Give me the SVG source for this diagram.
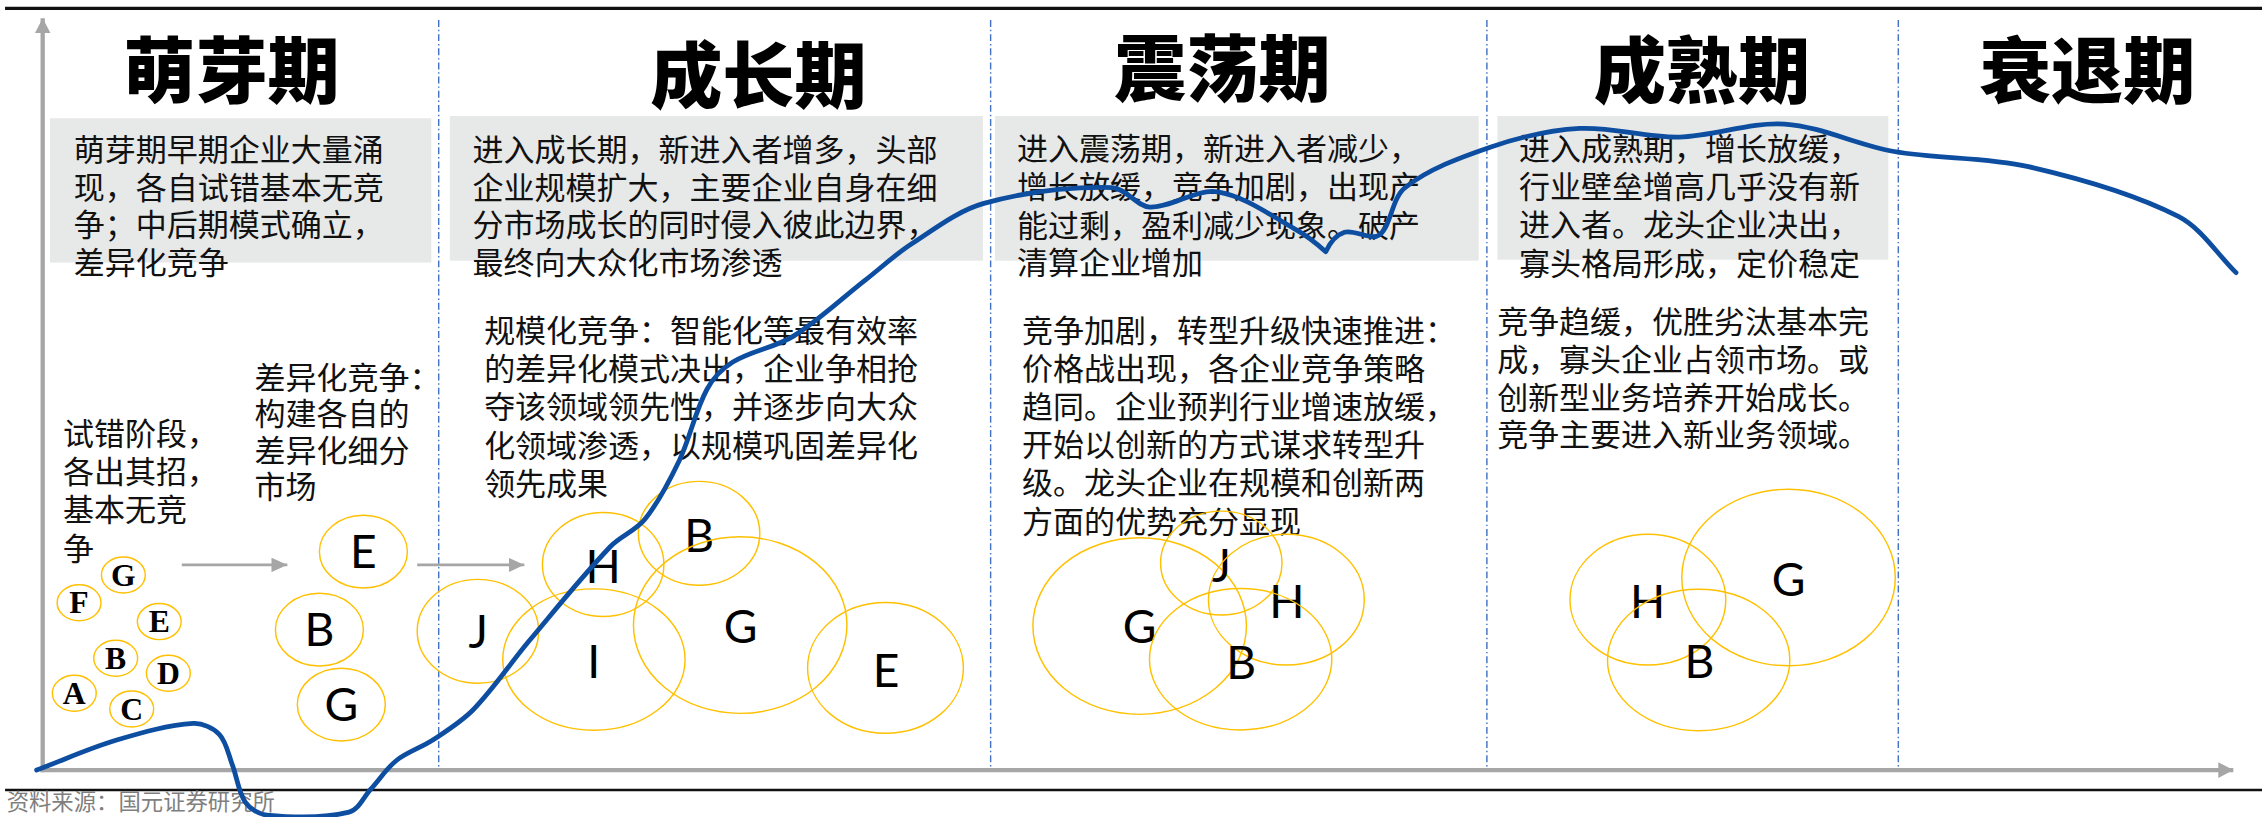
<svg xmlns="http://www.w3.org/2000/svg" width="2262" height="817" viewBox="0 0 2262 817">
<defs>
<style>
.t{font-family:"Liberation Sans","Noto Sans CJK SC","Noto Sans CJK JP",sans-serif;font-size:21.5px;fill:#111}
.title{font-family:"Noto Sans CJK SC","Noto Sans CJK JP",sans-serif;font-size:50px;font-weight:900;text-anchor:middle;fill:#000}
.src{font-family:"Liberation Sans","Noto Sans CJK SC","Noto Sans CJK JP",sans-serif;font-size:15.5px;fill:#7f7f7f}
.box{fill:#e7e8e8}
.c{fill:none;stroke:#ffc000;stroke-width:1}
.lt{font-family:"Liberation Serif",serif;font-weight:700;font-size:22px;text-anchor:middle;fill:#000}
.lb{font-family:Lato,"Liberation Sans",sans-serif;font-size:32px;text-anchor:middle;fill:#000}
.dash{stroke:#4472c4;stroke-width:1;stroke-dasharray:4.8 2 1 2;fill:none}
.axis{stroke:#a6a6a6;stroke-width:3;fill:none}
.arr{stroke:#a6a6a6;stroke-width:1.85;fill:none}
.rule{stroke:#111;fill:none}
.curve{fill:none;stroke:#0d4ea1;stroke-width:3.3;stroke-linecap:round;stroke-linejoin:round}
</style>
<marker id="axhead" markerUnits="userSpaceOnUse" markerWidth="11" markerHeight="11" refX="10.4" refY="5.5" orient="auto" viewBox="0 0 11 11">
<path d="M0,0 L10.4,5.5 L0,11 z" fill="#a6a6a6"/>
</marker>
<marker id="ahead" markerUnits="userSpaceOnUse" markerWidth="11" markerHeight="10" refX="11" refY="5" orient="auto" viewBox="0 0 11 10">
<path d="M0,0 L11,5 L0,10 z" fill="#a6a6a6"/>
</marker>
</defs>
<rect x="0" y="0" width="2262" height="817" fill="#fff"/>
<g transform="scale(1.4426)">
<g id="frame">
<line class="rule" x1="3.5" y1="5.75" x2="1568" y2="5.75" stroke-width="2.3"/>
<line class="rule" x1="3.5" y1="547.6" x2="1568" y2="547.6" stroke-width="1.8"/>
<line class="dash" x1="304.1" y1="13.9" x2="304.1" y2="533.8"/>
<line class="dash" x1="686.7" y1="13.9" x2="686.7" y2="533.8"/>
<line class="dash" x1="1030.7" y1="13.9" x2="1030.7" y2="533.8"/>
<line class="dash" x1="1315.9" y1="13.9" x2="1315.9" y2="533.8"/>
<text class="src" x="4.6" y="561.8">资料来源：国元证券研究所</text>
</g>
<g id="titles">
<text id="title-1" class="title" x="160.5" y="67">萌芽期</text>
<text id="title-2" class="title" x="525.7" y="70.5">成长期</text>
<text id="title-3" class="title" x="847.4" y="66">震荡期</text>
<text id="title-4" class="title" x="1179.7" y="67">成熟期</text>
<text id="title-5" class="title" x="1446.8" y="67">衰退期</text>
</g>
<g id="desc-1">
<rect class="box" x="34.6" y="82" width="264.4" height="100"/>
<text class="t"><tspan x="51.1" y="111.5">萌芽期早期企业大量涌</tspan><tspan x="51.1" y="137.7">现，各自试错基本无竞</tspan><tspan x="51.1" y="163.9">争；中后期模式确立，</tspan><tspan x="51.1" y="190.1">差异化竞争</tspan></text>
</g>
<g id="desc-2">
<rect class="box" x="311.8" y="80.4" width="369.6" height="100.3"/>
<text class="t"><tspan x="327.6" y="111.5">进入成长期，新进入者增多，头部</tspan><tspan x="327.6" y="137.7">企业规模扩大，主要企业自身在细</tspan><tspan x="327.6" y="163.9">分市场成长的同时侵入彼此边界，</tspan><tspan x="327.6" y="190.1">最终向大众化市场渗透</tspan></text>
</g>
<g id="desc-3">
<rect class="box" x="689.7" y="80.4" width="335.3" height="100.3"/>
<text class="t"><tspan x="705" y="111">进入震荡期，新进入者减少，</tspan><tspan x="705" y="137.5">增长放缓，竞争加剧，出现产</tspan><tspan x="705" y="164">能过剩，盈利减少现象。破产</tspan><tspan x="705" y="190.2">清算企业增加</tspan></text>
</g>
<g id="desc-4">
<rect class="box" x="1038" y="80.4" width="271" height="99.6"/>
<text class="t"><tspan x="1053" y="111">进入成熟期，增长放缓，</tspan><tspan x="1053" y="137.4">行业壁垒增高几乎没有新</tspan><tspan x="1053" y="163.4">进入者。龙头企业决出，</tspan><tspan x="1053" y="190.4">寡头格局形成，定价稳定</tspan></text>
</g>
<g id="note-1">
<text class="t"><tspan x="43.7" y="308.4">试错阶段，</tspan><tspan x="43.7" y="335">各出其招，</tspan><tspan x="43.7" y="361.5">基本无竞</tspan><tspan x="43.7" y="388">争</tspan></text>
</g>
<g id="note-2">
<text class="t"><tspan x="176.4" y="269.5">差异化竞争：</tspan><tspan x="176.4" y="294.8">构建各自的</tspan><tspan x="176.4" y="320.1">差异化细分</tspan><tspan x="176.4" y="345.4">市场</tspan></text>
</g>
<g id="note-3">
<text class="t"><tspan x="335.6" y="236.8">规模化竞争：智能化等最有效率</tspan><tspan x="335.6" y="263.3">的差异化模式决出，企业争相抢</tspan><tspan x="335.6" y="289.9">夺该领域领先性，并逐步向大众</tspan><tspan x="335.6" y="316.5">化领域渗透，以规模巩固差异化</tspan><tspan x="335.6" y="343">领先成果</tspan></text>
</g>
<g id="note-4">
<text class="t"><tspan x="708.4" y="236.8">竞争加剧，转型升级快速推进：</tspan><tspan x="708.4" y="263.3">价格战出现，各企业竞争策略</tspan><tspan x="708.4" y="289.9">趋同。企业预判行业增速放缓，</tspan><tspan x="708.4" y="315.8">开始以创新的方式谋求转型升</tspan><tspan x="708.4" y="342.6">级。龙头企业在规模和创新两</tspan><tspan x="708.4" y="369.6">方面的优势充分显现</tspan></text>
</g>
<g id="note-5">
<text class="t"><tspan x="1037.8" y="231">竞争趋缓，优胜劣汰基本完</tspan><tspan x="1037.8" y="256.9">成，寡头企业占领市场。或</tspan><tspan x="1037.8" y="283.4">创新型业务培养开始成长。</tspan><tspan x="1037.8" y="309.5">竞争主要进入新业务领域。</tspan></text>
</g>
<g id="firms-trial">
<g id="trial-G"><ellipse class="c" cx="85.5" cy="398.6" rx="15.2" ry="12.5"/><text class="lt" x="85.5" y="405.9">G</text></g>
<g id="trial-F"><ellipse class="c" cx="54.8" cy="417.8" rx="15.2" ry="12.5"/><text class="lt" x="54.8" y="425.1">F</text></g>
<g id="trial-E"><ellipse class="c" cx="110.4" cy="430.9" rx="15.2" ry="12.5"/><text class="lt" x="110.4" y="438.2">E</text></g>
<g id="trial-B"><ellipse class="c" cx="80.2" cy="456.3" rx="15.2" ry="12.5"/><text class="lt" x="80.2" y="463.6">B</text></g>
<g id="trial-D"><ellipse class="c" cx="116.7" cy="466.7" rx="15.2" ry="12.5"/><text class="lt" x="116.7" y="474">D</text></g>
<g id="trial-A"><ellipse class="c" cx="51.5" cy="480.6" rx="15.2" ry="12.5"/><text class="lt" x="51.5" y="487.9">A</text></g>
<g id="trial-C"><ellipse class="c" cx="91.3" cy="491.5" rx="15.2" ry="12.5"/><text class="lt" x="91.3" y="498.8">C</text></g>
</g>
<g id="firms-diff">
<g id="diff-E"><ellipse class="c" cx="251.9" cy="382.4" rx="30.5" ry="25.2"/><text class="lb" x="251.9" y="393.9">E</text></g>
<g id="diff-B"><ellipse class="c" cx="221.4" cy="436.5" rx="30.5" ry="25.2"/><text class="lb" x="221.4" y="448">B</text></g>
<g id="diff-G"><ellipse class="c" cx="236.6" cy="488.4" rx="30.5" ry="25.2"/><text class="lb" x="236.6" y="499.9">G</text></g>
</g>
<g id="firms-growth">
<g id="grow-J"><ellipse class="c" cx="331.3" cy="437.6" rx="42.1" ry="36"/><text class="lb" x="331.5" y="449.3">J</text></g>
<g id="grow-H"><ellipse class="c" cx="418.1" cy="391.3" rx="42.1" ry="36"/><text class="lb" x="418" y="404.3">H</text></g>
<g id="grow-B"><ellipse class="c" cx="484.6" cy="369.7" rx="42.1" ry="36"/><text class="lb" x="484.6" y="382.4">B</text></g>
<g id="grow-I"><ellipse class="c" cx="411.7" cy="457.2" rx="63.2" ry="49"/><text class="lb" x="411.5" y="470.2">I</text></g>
<g id="grow-G"><ellipse class="c" cx="513.1" cy="433.3" rx="74" ry="61.2"/><text class="lb" x="513.4" y="445.9">G</text></g>
<g id="grow-E"><ellipse class="c" cx="613.8" cy="463" rx="54" ry="45.3"/><text class="lb" x="614.2" y="475.9">E</text></g>
</g>
<g id="firms-shake">
<g id="shake-G"><ellipse class="c" cx="790" cy="434" rx="74" ry="61.2"/><text class="lb" x="790" y="445.9">G</text></g>
<g id="shake-J"><ellipse class="c" cx="846.6" cy="390.3" rx="42.1" ry="36"/><text class="lb" x="846.5" y="403.2">J</text></g>
<g id="shake-H"><ellipse class="c" cx="891.7" cy="415.7" rx="54" ry="45.3"/><text class="lb" x="892" y="428.3">H</text></g>
<g id="shake-B"><ellipse class="c" cx="860" cy="457" rx="63.2" ry="49"/><text class="lb" x="860.4" y="470.6">B</text></g>
</g>
<g id="firms-mature">
<g id="mature-H"><ellipse class="c" cx="1142.3" cy="415.7" rx="54" ry="45.3"/><text class="lb" x="1142.1" y="428.5">H</text></g>
<g id="mature-G"><ellipse class="c" cx="1239.8" cy="400.3" rx="74" ry="61.2"/><text class="lb" x="1239.8" y="412.9">G</text></g>
<g id="mature-B"><ellipse class="c" cx="1177.5" cy="457.5" rx="63.2" ry="49"/><text class="lb" x="1178" y="470.2">B</text></g>
</g>
<g id="connectors">
<line class="axis" x1="29.6" y1="535.3" x2="29.6" y2="12.7" marker-end="url(#axhead)"/>
<line class="axis" x1="28.1" y1="533.8" x2="1548.1" y2="533.8" marker-end="url(#axhead)"/>
<line class="arr" x1="126" y1="391.6" x2="199.2" y2="391.6" marker-end="url(#ahead)"/>
<line class="arr" x1="289.2" y1="391.6" x2="363.5" y2="391.6" marker-end="url(#ahead)"/>
<path class="curve" d="M25.4,533.8 C43.9,526.9 62.0,518.6 80.9,513 C98.2,507.9 116.6,502.5 134,501.5 C140.3,501.2 147.9,504.6 152,509 C156.9,514.1 158.3,522.9 161,530 C164.3,538.5 165.1,548.9 170,556 C173.1,560.5 179.4,564.5 185,565 C203.4,566.8 224.7,567.3 242,563 C248.7,561.3 252.1,552.4 257,547 C263.1,540.4 268.0,532.5 275,527 C282.4,521.2 292.1,518.2 300,513 C309.7,506.6 319.9,500.3 328,492 C342.3,477.3 353.7,459.8 367,444 C385.4,422.1 403.3,399.7 423,379 C430.0,371.7 440.8,367.8 447,360 C456.8,347.8 464.2,333.2 471,319 C478.5,303.2 481.8,285.1 490,270 C494.1,262.4 500.7,255.5 508,251 C520.7,243.2 537.2,241.0 550,233 C567.8,222.0 583.3,207.0 600,194 C610.6,185.7 620.7,176.3 632,169 C648.0,158.6 663.9,146.1 682,141 C710.3,133.1 742.1,129.4 771,130 C780.4,130.2 787.8,143.1 797,143.5 C812.1,144.1 829.0,130.7 844,133 C862.7,135.9 880.6,149.3 898,159 C905.6,163.2 914,170 919,174.5 C922,168 926.6,162.7 932,161 C938.9,158.9 950.5,167.0 956,163 C964.5,156.7 964.6,137.4 974,130 C990.3,117.1 1012.5,109.0 1033,102 C1052.8,95.3 1074.2,90.1 1095,89 C1117.8,87.8 1141.0,95.5 1164,95 C1188.4,94.5 1212.9,84.4 1237,86 C1262.6,87.7 1287.3,100.5 1313,105 C1343.7,110.4 1375.8,108.6 1406,115.5 C1441.4,123.6 1478.2,133.8 1510,150 C1526.2,158.3 1536.7,176.0 1550,189"/>
</g>
</g>
</svg>
